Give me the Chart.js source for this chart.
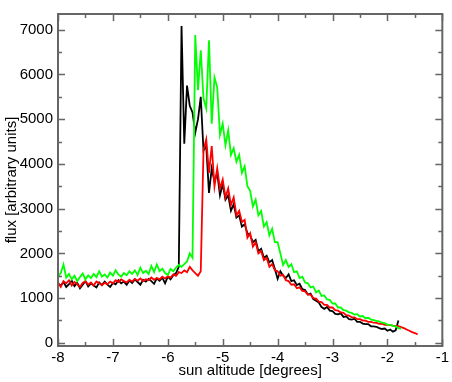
<!DOCTYPE html>
<html>
<head>
<meta charset="utf-8">
<script src="https://cdn.jsdelivr.net/npm/chart.js@4.4.0/dist/chart.umd.min.js"></script>
<style>
html,body{margin:0;padding:0;background:#fff;}
</style>
</head>
<body>
<canvas id="fluxChart" width="452" height="382"></canvas>
<script>

// sun altitude grid: every series starts at -8 deg, one sample per 0.05 deg
const altStart = -8;
const altStep = 0.05;

const xTicks = [-8, -7, -6, -5, -4, -3, -2, -1];
const yTicks = [0, 1000, 2000, 3000, 4000, 5000, 6000, 7000];

// black: -8 .. -1.80
const blackFlux = [
1330,1280,1360,1250,1310,1390,1270,1340,1220,1300,
1380,1260,1330,1280,1240,1350,1290,1370,1300,1250,
1340,1310,1400,1330,1370,1300,1390,1340,1420,1360,
1300,1410,1370,1430,1380,1320,1440,1390,1460,1330,
1480,1420,1510,1560,1700,7080,4450,5750,5300,5150,
4700,5000,5500,4300,4400,3350,3900,3600,3800,3300,
3550,3200,3300,2950,3100,2800,2850,2600,2650,2450,
2400,2250,2300,2050,2100,1900,1950,1800,1850,1650,
1430,1600,1500,1450,1530,1380,1400,1290,1320,1200,
1180,1080,1100,980,940,900,800,760,800,720,
710,650,640,660,580,590,530,520,540,470,
470,430,420,420,370,370,360,330,310,320,
270,300,250,280,500
];

// green: -8 .. -1.75
const greenFlux = [
1480,1560,1750,1460,1540,1420,1500,1380,1470,1550,
1420,1510,1450,1540,1470,1600,1480,1530,1460,1570,
1500,1620,1530,1480,1560,1510,1600,1540,1620,1520,
1680,1560,1610,1540,1720,1580,1750,1600,1660,1560,
1520,1650,1600,1680,1740,1700,1760,1820,2000,1900,
6880,5650,6540,5460,5240,6760,4900,5930,5710,4650,
4900,4420,4750,4200,4350,4050,4200,3800,3950,3500,
3400,3050,3200,2850,2950,2600,2700,2400,2550,2250,
2250,2000,1740,1850,1700,1760,1580,1600,1450,1480,
1350,1330,1240,1260,1130,1170,1050,1060,970,960,
880,880,790,790,730,720,680,670,630,640,
590,600,550,560,520,510,490,480,450,440,
410,400,380,370,330,320
];

// red: -8 .. -1.45
const redFlux = [
1350,1250,1380,1330,1400,1280,1360,1310,1250,1340,
1380,1300,1350,1280,1370,1330,1290,1340,1310,1370,
1330,1400,1360,1420,1380,1350,1410,1370,1430,1390,
1440,1380,1420,1400,1460,1410,1450,1420,1480,1440,
1490,1460,1530,1500,1580,1560,1620,1580,1700,1620,
1560,1500,1600,4300,4550,3800,4400,3500,3900,3450,
3650,3250,3450,3080,3250,2850,2950,2700,2750,2350,
2450,2150,2250,2000,2050,1850,1900,1700,1760,1620,
1600,1500,1520,1400,1380,1300,1310,1220,1240,1160,
1150,1080,1080,1000,990,920,910,850,850,790,
790,730,720,680,670,620,610,570,570,530,
530,500,495,470,470,450,445,425,430,405,
400,395,385,380,375,350,330,300,270,240,
220,190
];

function toPoints(values) {
  return values.map((v, i) => ({x: altStart + i * altStep, y: v}));
}

// frame with inward ticks on all four sides
const framePlugin = {
  id: "frame",
  afterDraw(chart) {
    const ctx = chart.ctx;
    const a = chart.chartArea;
    const xs = chart.scales.x;
    const ys = chart.scales.y;
    ctx.save();
    ctx.strokeStyle = "#666";
    ctx.lineWidth = 2;
    ctx.strokeRect(a.left, a.top, a.right - a.left, a.bottom - a.top);
    ctx.lineWidth = 1.5;
    ctx.beginPath();
    for (let v = xTicks[0]; v <= xTicks[xTicks.length - 1] + 0.01; v += 0.5) {
      const p = Math.round(xs.getPixelForValue(v)) + 0.5;
      const len = Number.isInteger(v) ? 7 : 4;
      ctx.moveTo(p, a.bottom); ctx.lineTo(p, a.bottom - len);
      ctx.moveTo(p, a.top); ctx.lineTo(p, a.top + len);
    }
    for (let v = yTicks[0]; v <= yTicks[yTicks.length - 1]; v += 500) {
      const p = Math.round(ys.getPixelForValue(v)) + 0.5;
      const len = v % 1000 === 0 ? 7 : 4;
      ctx.moveTo(a.left, p); ctx.lineTo(a.left + len, p);
      ctx.moveTo(a.right, p); ctx.lineTo(a.right - len, p);
    }
    ctx.stroke();
    ctx.restore();
  }
};

Chart.defaults.font.family = "'Liberation Sans', Arial, sans-serif";
Chart.defaults.font.size = 15;
Chart.defaults.color = "#000";

new Chart("fluxChart", {
  type: "line",
  data: {
    datasets: [
      {label: "green", data: toPoints(greenFlux), borderColor: "#00ff00", borderWidth: 1.8},
      {label: "red", data: toPoints(redFlux), borderColor: "#ff0000", borderWidth: 1.8},
      {label: "black", data: toPoints(blackFlux), borderColor: "#000000", borderWidth: 1.8}
    ]
  },
  options: {
    responsive: false,
    animation: false,
    devicePixelRatio: 1,
    layout: {padding: {top: 3, right: 8, left: 0, bottom: 0}},
    elements: {point: {radius: 0}, line: {tension: 0, fill: false}},
    plugins: {legend: {display: false}, tooltip: {enabled: false}},
    scales: {
      x: {
        type: "linear",
        min: -8,
        max: -1,
        grid: {display: false, drawTicks: false},
        border: {display: false},
        afterBuildTicks: s => { s.ticks = xTicks.map(v => ({value: v})); },
        afterFit: s => { s.height = 36; },
        ticks: {padding: 3, maxRotation: 0, callback: v => String(v)},
        title: {display: true, text: "sun altitude [degrees]", padding: {top: 0, bottom: 2}}
      },
      y: {
        type: "linear",
        min: -70,
        max: 7350,
        grid: {display: false, drawTicks: false},
        border: {display: false},
        afterBuildTicks: s => { s.ticks = yTicks.map(v => ({value: v})); },
        afterFit: s => { s.width = 58; },
        ticks: {padding: 5, callback: v => String(v)},
        title: {display: true, text: "flux [arbitrary units]", padding: {top: 3, bottom: 0}}
      }
    }
  },
  plugins: [framePlugin]
});

</script>
</body>
</html>
